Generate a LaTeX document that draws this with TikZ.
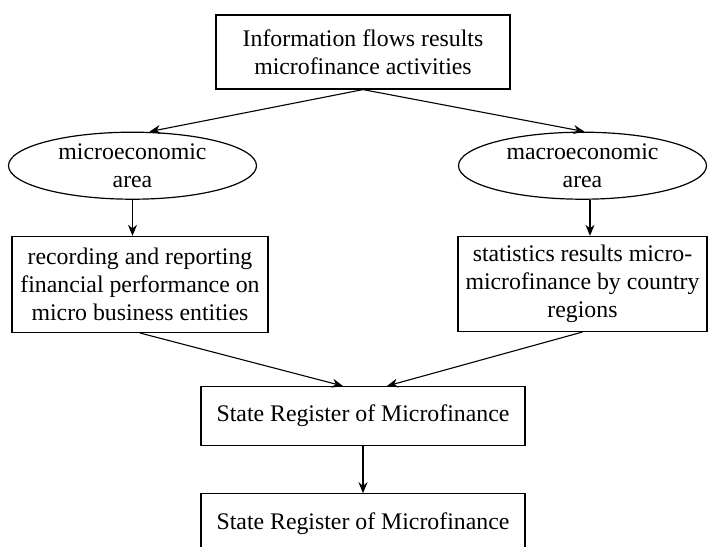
\documentclass[tikz,border=0pt]{standalone}
\usepackage{fontspec}
\setmainfont{Liberation Serif}
\usetikzlibrary{arrows.meta, positioning, shapes.geometric}

\begin{document}
\begin{tikzpicture}[
    font=\fontsize{11.9}{13.9}\selectfont,
    block/.style={
        rectangle, draw, line width=0.6pt,
        align=center, inner sep=2pt
    },
    area/.style={
        ellipse, draw, line width=0.6pt,
        minimum width=124pt, minimum height=33.5pt,
        align=center, inner sep=-0.5pt
    },
    arrow/.style={-{Stealth[length=5.5pt, width=4.5pt]}, line width=0.55pt},
]
\useasboundingbox (-181.5pt,26pt) rectangle (172.5pt,-247.5pt);

\node[block, minimum width=147pt, minimum height=37pt] (info) {Information flows results\\microfinance activities};

\node[area, below=21pt of info, xshift=-115.25pt] (micro) {microeconomic\\area};
\node[area, below=21pt of info, xshift= 109.75pt] (macro) {macroeconomic\\area};

\node[block, below=18pt of micro, xshift=3.75pt, minimum width=128pt, minimum height=48pt] (record) {recording and reporting\\financial performance on\\micro business entities};
\node[block, below=18pt of macro, minimum width=124.5pt, minimum height=47.5pt] (stats) {statistics results micro-\\microfinance by country\\regions};

\node[block, below=26.5pt of record, xshift=111.5pt, minimum width=162pt, minimum height=29.5pt] (register) {State Register of Microfinance};
\node[block, below=23.5pt of register, minimum width=162pt, minimum height=29.5pt] (registerb) {State Register of Microfinance};

\draw[arrow] (info.south) -- ([xshift=8.5pt]micro.north);
\draw[arrow] (info.south) -- ([xshift=1pt]macro.north);

\draw[arrow] (micro.south) -- (micro.south |- record.north);
\draw[arrow] ([xshift=3.75pt]macro.south) -- ([xshift=3.75pt]macro.south |- stats.north);

\draw[arrow] (record.south) -- ([xshift=-10pt]register.north);
\draw[arrow] (stats.south) -- ([xshift=12pt]register.north);
\draw[arrow] (register) -- (registerb);

\end{tikzpicture}
\end{document}
